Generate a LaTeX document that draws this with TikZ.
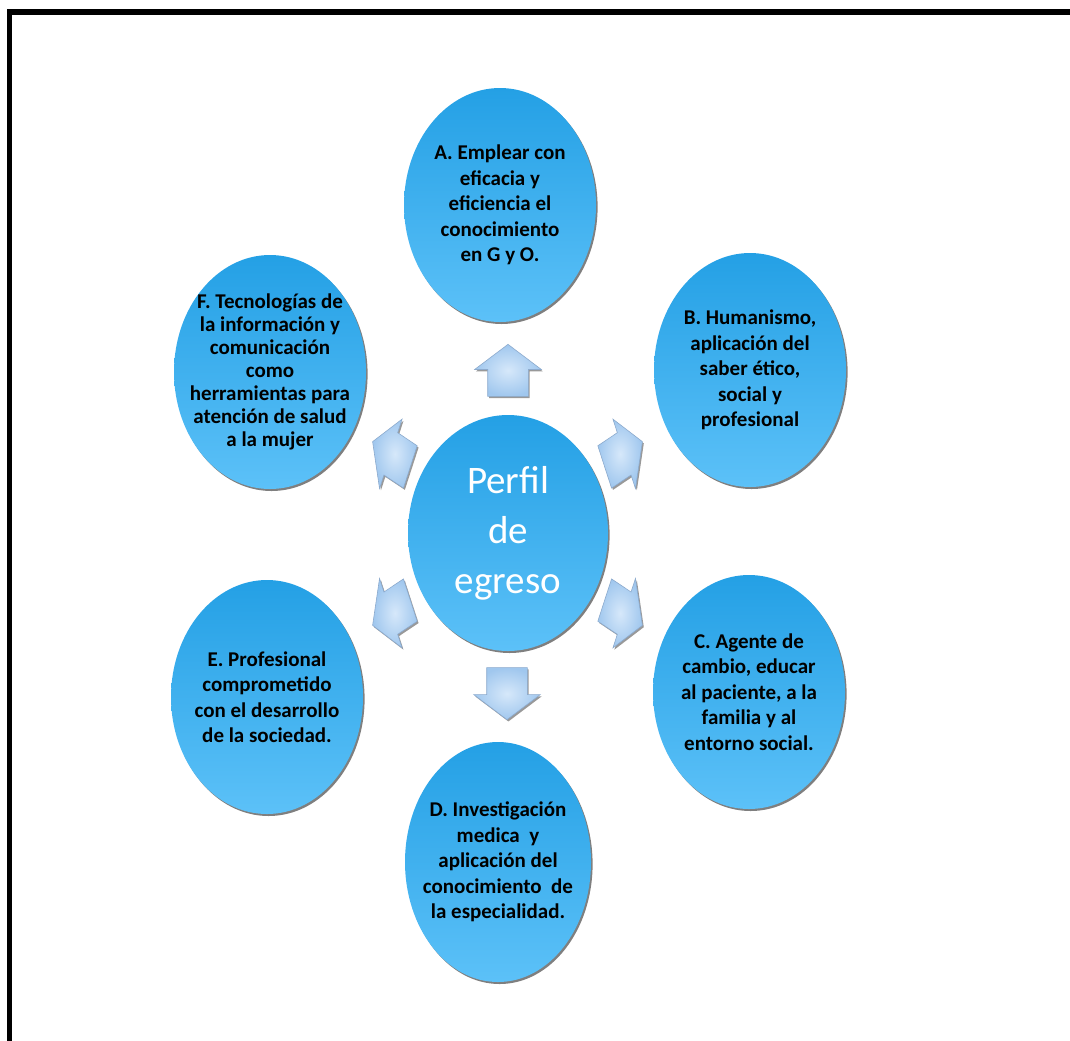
\documentclass[tikz,border=0pt]{standalone}
\usepackage{fontspec}
\setmainfont{Carlito}
\usepackage{tikz}
\usetikzlibrary{shapes.geometric, shapes.arrows, shadows}
\definecolor{bubbletop}{RGB}{36,160,229}
\definecolor{bubblebottom}{RGB}{92,193,248}
\definecolor{arrowlight}{RGB}{214,232,250}
\definecolor{arrowdark}{RGB}{160,199,238}
\definecolor{arrowedge}{RGB}{140,170,205}

\begin{document}
\begin{tikzpicture}[
    x=0.5pt, y={(0pt,-0.5pt)},
    bubble/.style={ellipse, minimum width=96pt, minimum height=117pt, inner sep=0pt, top color=bubbletop, bottom color=bubblebottom, drop shadow={shadow xshift=0.8pt, shadow yshift=-1pt, fill=black, opacity=0.5}},
    bubbletext/.style={align=center, inner sep=0pt, font=\fontsize{10.5}{12.75}\selectfont\bfseries},
    flecha/.style={single arrow, minimum height=26pt, inner xsep=0pt, inner ysep=10pt, single arrow head extend=6.5pt, single arrow tip angle=106, shading=radial, inner color=arrowlight, outer color=arrowdark, draw=arrowedge, line width=0.3pt, drop shadow={shadow xshift=0.7pt, shadow yshift=-0.9pt, fill=black, opacity=0.4}},
    diagonal/.style={xscale=0.8, yscale=1.15}
]
\useasboundingbox (0,0) rectangle (1070,1040);

% Frame
\draw[line width=3pt] (7,12) -- (1090,12);
\draw[line width=2.5pt] (9.5,9) -- (9.5,1060);

% Center
\node[bubble, minimum width=100pt, minimum height=118pt, label={[align=center, text=white, font=\fontsize{19.5}{25}\selectfont]center:{Perfil\\de\\egreso}}] (perfil) at (508,533) {};

% Outer ring
\node[bubble, label={[bubbletext]center:{A. Emplear con\\eficacia y\\eficiencia el\\conocimiento\\en G y O.}}] (empleo) at (500,205) {};
\node[bubble, label={[bubbletext]center:{B. Humanismo,\\aplicación del\\saber ético,\\social y\\profesional}}] (humanismo) at (750,370) {};
\node[bubble, label={[bubbletext]center:{C. Agente de\\cambio, educar\\al paciente, a la\\familia y al\\entorno social.}}] (agente) at (749,692) {};
\node[bubble, minimum width=93pt, minimum height=120pt, label={[bubbletext]center:{D. Investigación\\medica~ y\\aplicación del\\conocimiento~ de\\la especialidad.}}] (investigacion) at (498,862) {};
\node[bubble, label={[bubbletext]center:{E. Profesional\\comprometido\\con el desarrollo\\de la sociedad.}}] (profesional) at (267,697) {};
\node[bubble, label={[bubbletext, font=\fontsize{10.5}{11.5}\selectfont\bfseries]center:{F. Tecnologías de\\la información y\\comunicación\\como\\herramientas para\\atención de salud\\a la mujer}}] (tecnologias) at (270,372) {};

% Arrows
\node[flecha, rotate=90] (flechaA) at (508,378) {};
\node[flecha, diagonal, rotate=25] (flechaB) at (618,458) {};
\node[flecha, diagonal, rotate=-25] (flechaC) at (618,609) {};
\node[flecha, rotate=-90] (flechaD) at (507,686) {};
\node[flecha, diagonal, rotate=205] (flechaE) at (397,609) {};
\node[flecha, diagonal, rotate=155] (flechaF) at (397,458) {};

\end{tikzpicture}
\end{document}
